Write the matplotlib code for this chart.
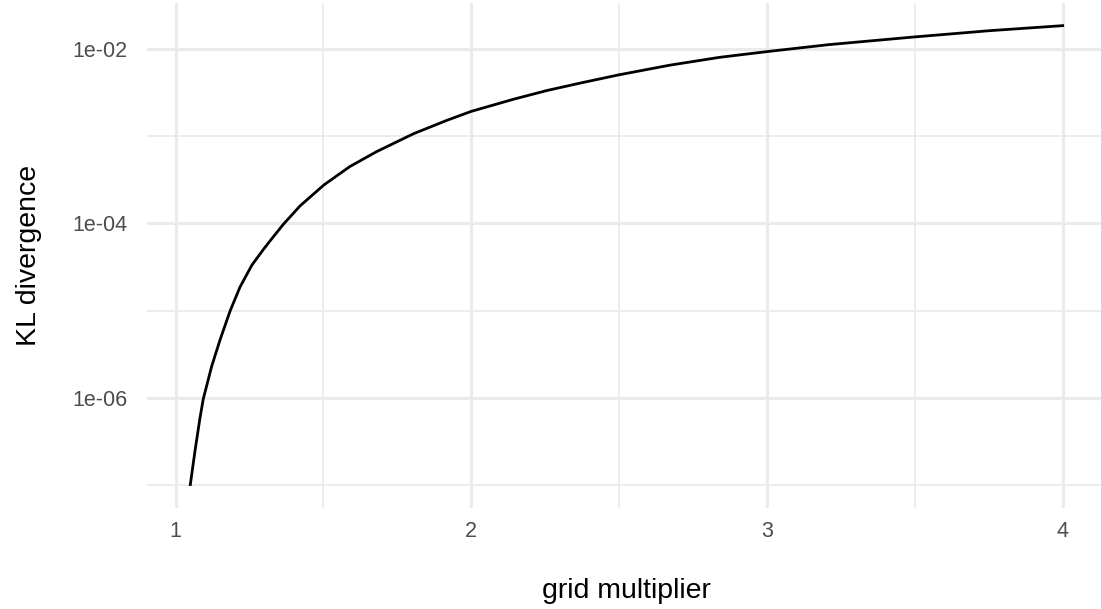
import numpy as np
import matplotlib
matplotlib.use("Agg")
import matplotlib.pyplot as plt
from matplotlib.ticker import FixedLocator, FixedFormatter

plt.rcParams['font.family'] = ['Liberation Sans', 'DejaVu Sans']

# grid multiplier vs KL divergence
multiplier = [1.05, 1.066, 1.083, 1.094, 1.122, 1.150, 1.184, 1.218, 1.258, 1.297,
              1.320, 1.365, 1.421, 1.502, 1.590, 1.680, 1.759, 1.805, 1.918, 2.000,
              2.143, 2.256, 2.369, 2.500, 2.672, 2.840, 3.000, 3.210, 3.500, 3.750,
              4.000]
kl_div = [1.02e-7, 2.5e-7, 6.0e-7, 9.8e-7, 2.29e-6, 4.57e-6, 9.8e-6, 1.86e-5,
          3.31e-5, 5.01e-5, 6.31e-5, 9.77e-5, 1.58e-4, 2.75e-4, 4.47e-4, 6.61e-4,
          8.91e-4, 1.06e-3, 1.51e-3, 1.91e-3, 2.63e-3, 3.31e-3, 4.03e-3, 5.01e-3,
          6.46e-3, 7.94e-3, 9.23e-3, 1.11e-2, 1.36e-2, 1.60e-2, 1.83e-2]

x_major = [1, 2, 3, 4]
x_minor = [1.5, 2.5, 3.5]
y_major = [1e-2, 1e-4, 1e-6]
y_minor = [1e-3, 1e-5, 1e-7]
y_labels = ["1e-02", "1e-04", "1e-06"]

W, H = 1101, 609
fig = plt.figure(figsize=(W / 100, H / 100), dpi=100)
left, right, top, bottom = 146.7, 1106.3, 2.7, 507.5
ax = fig.add_axes([left / W, 1 - bottom / H, (right - left) / W, (bottom - top) / H])

ax.plot(multiplier, kl_div, color="black", lw=2.0, solid_joinstyle="round", zorder=3)
ax.set_yscale("log")

# 5% padding like ggplot's default expansion
xs = max(multiplier) - min(multiplier)
ax.set_xlim(min(multiplier) - 0.05 * xs, max(multiplier) + 0.05 * xs)
ly = np.log10(kl_div)
ys = ly.max() - ly.min()
ax.set_ylim(10 ** (ly.min() - 0.05 * ys), 10 ** (ly.max() + 0.05 * ys))

ax.xaxis.set_major_locator(FixedLocator(x_major))
ax.xaxis.set_minor_locator(FixedLocator(x_minor))
ax.yaxis.set_major_locator(FixedLocator(y_major))
ax.yaxis.set_major_formatter(FixedFormatter(y_labels))
ax.yaxis.set_minor_locator(FixedLocator(y_minor))
ax.yaxis.set_minor_formatter(FixedFormatter(["", "", ""]))

ax.grid(True, which="major", color="#ebebeb", lw=2.2)
ax.grid(True, which="minor", color="#ebebeb", lw=1.3)
ax.set_axisbelow(True)
for s in ax.spines.values():
    s.set_visible(False)
ax.tick_params(which="both", length=0)
ax.tick_params(axis="x", labelsize=15.5, labelcolor="#4d4d4d", pad=10)
ax.tick_params(axis="y", labelsize=15.5, labelcolor="#4d4d4d", pad=13.5)

ax.set_xlabel("grid multiplier", fontsize=20.5, labelpad=26)
ax.set_ylabel("KL divergence", fontsize=20.5, labelpad=22)

fig.savefig("out.png", dpi=100)
